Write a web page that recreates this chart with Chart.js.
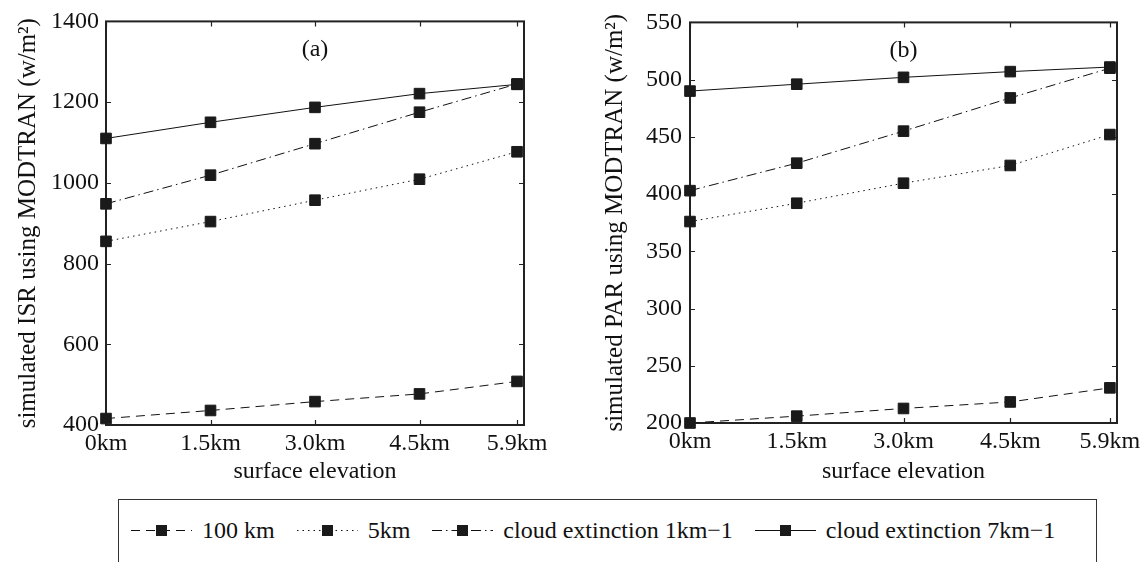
<!DOCTYPE html>
<html>
<head>
<meta charset="utf-8">
<script src="https://cdn.jsdelivr.net/npm/chart.js@4.4.0/dist/chart.umd.min.js"></script>
<style>
  body { margin: 0; width: 1148px; height: 562px; overflow: hidden; background: #fff; position: relative;
         font-family: 'Liberation Serif', 'Times New Roman', serif; color: #111; }
  canvas { position: absolute; top: 0; }
  #legend { position: absolute; left: 118px; top: 499px; width: 979px; height: 90px; box-sizing: border-box;
            border: 1.5px solid #333; }
  #legend .row { display: flex; align-items: center; height: 60px; padding-left: 12px; }
  #legend .item { display: flex; align-items: center; font-size: 24px; margin-right: 22px; }
  #legend .item span { margin-left: 10px; }
</style>
</head>
<body>
<canvas id="isr" width="574" height="492" style="left:0"></canvas>
<canvas id="par" width="574" height="492" style="left:574px"></canvas>
<div id="legend"><div class="row"></div></div>
<script>
// elevation (km) and tick labels
const elevations = [0, 1.5, 3.0, 4.5, 5.9];
const elevationLabels = ['0km', '1.5km', '3.0km', '4.5km', '5.9km'];
const seriesNames = ['100 km', '5km', 'cloud extinction 1km\u22121', 'cloud extinction 7km\u22121'];

// (a) simulated ISR
const isr100km = [416, 436, 458, 477, 508];
const isr5km = [855, 904, 957, 1009, 1077];
const isrCloud1 = [948, 1019, 1097, 1175, 1245];
const isrCloud7 = [1110, 1150, 1187, 1221, 1244];

// (b) simulated PAR
const par100km = [200, 206, 212.7, 218.4, 230.7];
const par5km = [376, 392, 409.5, 425, 452];
const parCloud1 = [403, 427, 455, 484, 510];
const parCloud7 = [490, 496, 502, 507, 511];

// matlab line styles: --, :, -., -
const dashes = [[9, 6], [1.5, 4], [10, 4, 1.5, 4], []];
const ink = '#111';

Chart.defaults.font.family = "'Liberation Serif', 'Times New Roman', serif";
Chart.defaults.font.size = 24;
Chart.defaults.color = ink;

// inner tick marks, box frame and panel letter
const frameTicks = {
  id: 'frameTicks',
  beforeDatasetsDraw(chart) {
    const { ctx, chartArea: a, scales: { x, y } } = chart;
    ctx.save();
    ctx.strokeStyle = '#222';
    ctx.lineWidth = 1.2;
    ctx.beginPath();
    y.ticks.forEach(t => {
      const py = Math.round(y.getPixelForValue(t.value)) + 0.5;
      ctx.moveTo(a.left, py); ctx.lineTo(a.left + 5, py);
      ctx.moveTo(a.right, py); ctx.lineTo(a.right - 5, py);
    });
    x.ticks.forEach(t => {
      const px = Math.round(x.getPixelForValue(t.value)) + 0.5;
      ctx.moveTo(px, a.bottom); ctx.lineTo(px, a.bottom - 5);
      ctx.moveTo(px, a.top); ctx.lineTo(px, a.top + 5);
    });
    ctx.stroke();
    ctx.lineWidth = 2;
    ctx.strokeRect(a.left, a.top, a.right - a.left, a.bottom - a.top);
    ctx.restore();
  },
  afterDraw(chart, args, opts) {
    const { ctx, chartArea: a } = chart;
    ctx.save();
    ctx.font = "24px 'Liberation Serif'";
    ctx.fillStyle = ink;
    ctx.textAlign = 'center';
    ctx.textBaseline = 'middle';
    ctx.fillText(opts.label, (a.left + a.right) / 2, a.top + 28);
    ctx.restore();
  }
};

function makeChart(id, values, yMin, yMax, yStep, yTitle, panel, area) {
  const W = 574, H = 492;
  const datasets = values.map((vals, i) => ({
    label: seriesNames[i],
    data: vals.map((v, j) => ({ x: elevations[j], y: v })),
    borderColor: ink,
    borderWidth: 1,
    borderDash: dashes[i],
    backgroundColor: '#1a1a1a',
    pointStyle: 'rect',
    pointRadius: 7.5,
    pointBorderWidth: 1,
    pointBorderColor: '#1a1a1a',
    pointBackgroundColor: '#1a1a1a',
    tension: 0,
    clip: false
  }));
  return new Chart(document.getElementById(id), {
    type: 'line',
    data: { datasets },
    plugins: [frameTicks],
    options: {
      responsive: false,
      animation: false,
      devicePixelRatio: 1,
      layout: { padding: { left: 0, top: area.top, right: W - area.right, bottom: 0 } },
      plugins: {
        legend: { display: false },
        tooltip: { enabled: false },
        frameTicks: { label: panel }
      },
      scales: {
        x: {
          type: 'linear',
          min: 0,
          max: 6,
          afterBuildTicks: s => { s.ticks = elevations.map(v => ({ value: v })); },
          afterFit: s => { s.height = H - area.bottom; },
          ticks: {
            padding: 4,
            maxRotation: 0,
            autoSkip: false,
            callback: v => elevationLabels[elevations.indexOf(v)]
          },
          grid: { display: false, drawTicks: false },
          border: { display: false },
          title: { display: true, text: 'surface elevation', padding: { top: 0, bottom: 6 } }
        },
        y: {
          min: yMin,
          max: yMax,
          afterFit: s => { s.width = area.left; },
          ticks: { stepSize: yStep, padding: area.tickPad, callback: v => String(v) },
          grid: { display: false, drawTicks: false },
          border: { display: false },
          title: { display: true, text: yTitle, font: { size: 25 }, padding: { top: area.titlePad, bottom: 0 } }
        }
      }
    }
  });
}

makeChart('isr', [isr100km, isr5km, isrCloud1, isrCloud7], 400, 1400, 200,
  'simulated ISR using MODTRAN (w/m\u00b2)', '(a)',
  { left: 106, right: 524, top: 17, bottom: 425, tickPad: 7, titlePad: 13 });
makeChart('par', [par100km, par5km, parCloud1, parCloud7], 200, 550, 50,
  'simulated PAR using MODTRAN (w/m\u00b2)', '(b)',
  { left: 116, right: 543, top: 16, bottom: 423, tickPad: 8, titlePad: 26 });

// legend row
const row = document.querySelector('#legend .row');
seriesNames.forEach((name, i) => {
  const item = document.createElement('div');
  item.className = 'item';
  const dash = dashes[i].length ? dashes[i].join(' ') : 'none';
  item.innerHTML =
    '<svg width="61" height="14" viewBox="0 0 61 14">' +
    '<line x1="0" y1="7.5" x2="61" y2="7.5" stroke="' + ink + '" stroke-width="1" stroke-dasharray="' + dash + '"/>' +
    '<rect x="25" y="2" width="11" height="11" fill="#1a1a1a"/></svg>' +
    '<span>' + name + '</span>';
  row.appendChild(item);
});
</script>
</body>
</html>
